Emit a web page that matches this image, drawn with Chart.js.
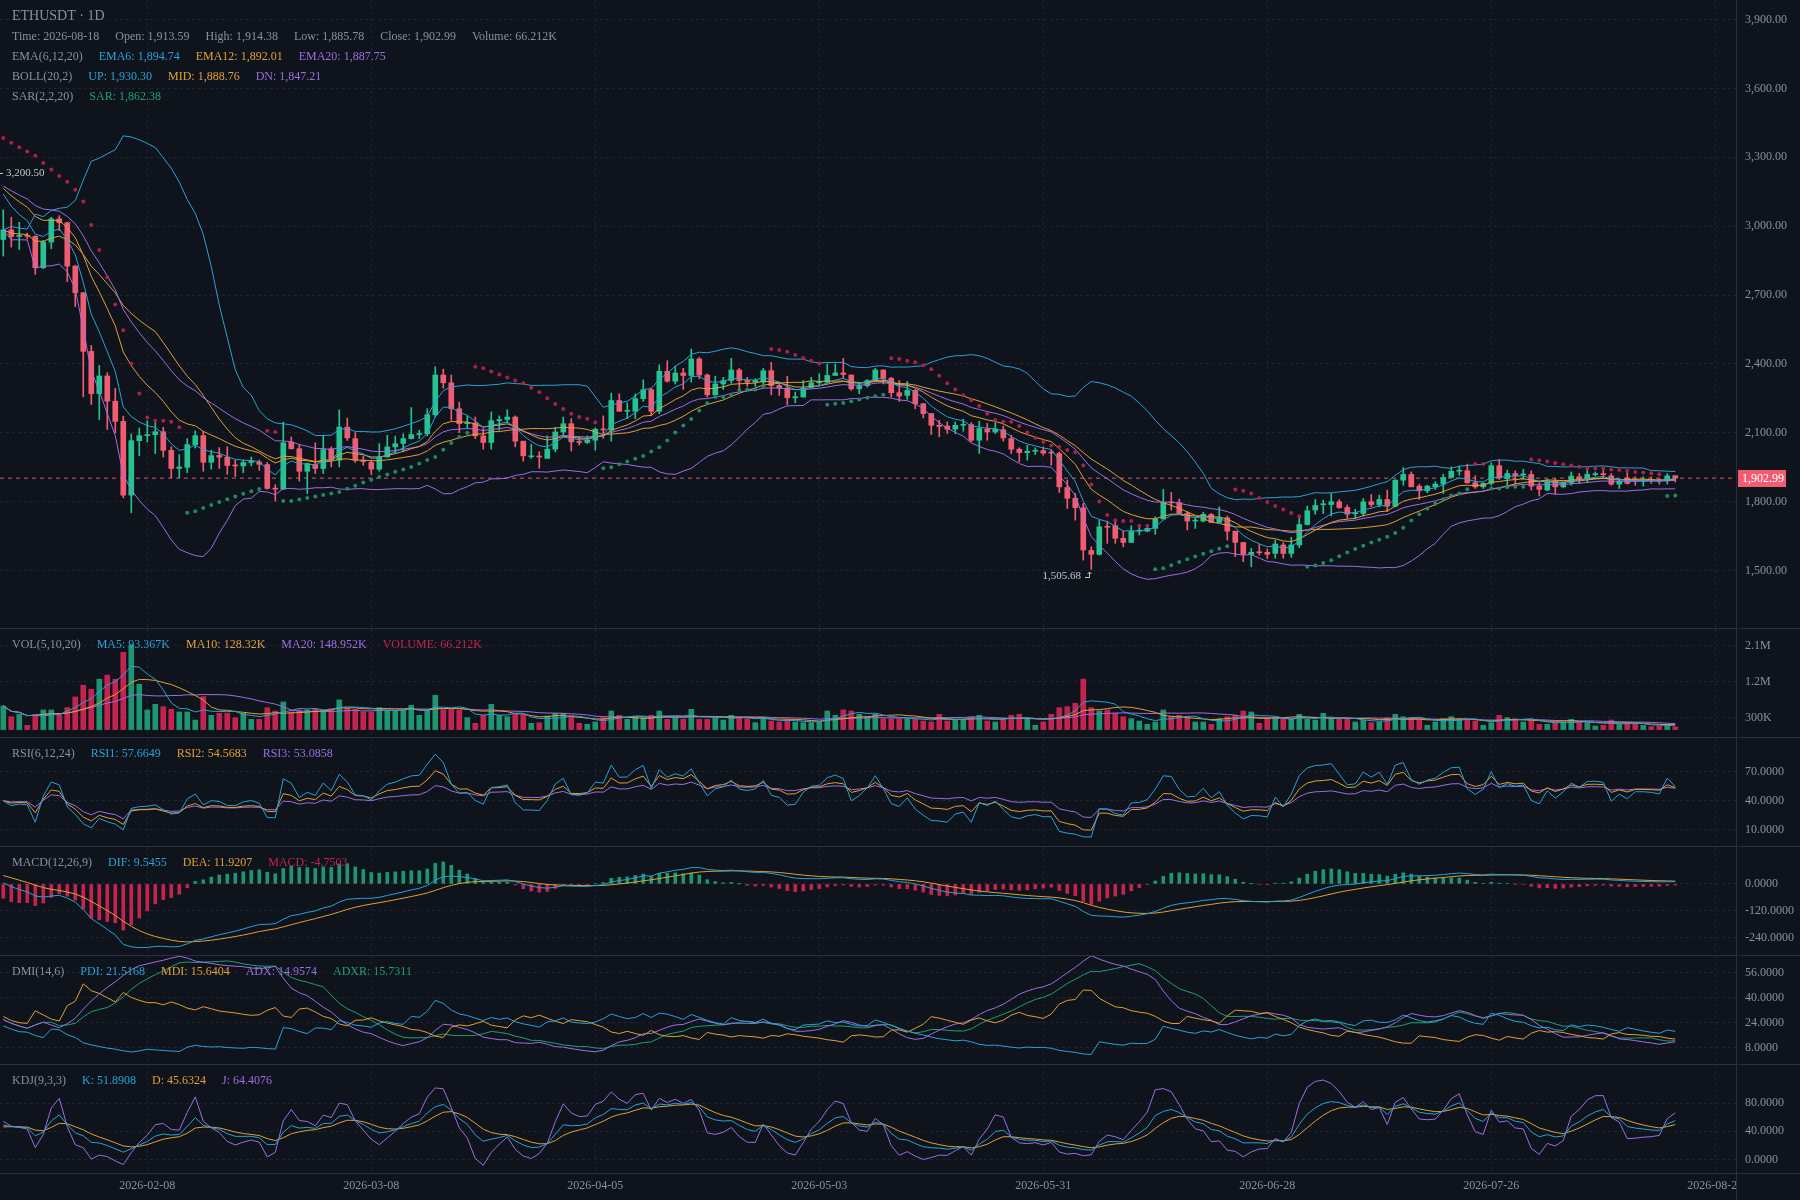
<!DOCTYPE html>
<html lang="en">
<head>
<meta charset="utf-8">
<title>ETHUSDT · 1D</title>
<script src="https://cdn.jsdelivr.net/npm/chart.js@4.4.1/dist/chart.umd.min.js"></script>
<style>
  html, body { margin: 0; padding: 0; background: #0e131c; }
  #chart-stack { width: 1800px; height: 1200px; overflow: hidden; }
  #chart-stack canvas { display: block; }
</style>
</head>
<body>
<div id="chart-stack">
  <canvas id="pane-main" width="1800" height="629"></canvas>
  <canvas id="pane-vol" width="1800" height="109"></canvas>
  <canvas id="pane-rsi" width="1800" height="109"></canvas>
  <canvas id="pane-macd" width="1800" height="109"></canvas>
  <canvas id="pane-dmi" width="1800" height="109"></canvas>
  <canvas id="pane-kdj" width="1800" height="135"></canvas>
</div>
<script>
// Daily candles, 2026-01-21 .. 2026-08-18 (index 0 = 2026-01-21)
const opens = [
  2942, 2984, 2955, 2960, 2956, 2819, 2931, 3032, 3015, 2826,
  2710, 2455, 2271, 2348, 2238, 2150, 1829, 2066, 2088, 2092,
  2105, 2024, 1945, 1950, 2049, 2088, 1972, 2002, 1994, 1958,
  1956, 1971, 1973, 1962, 1858, 1855, 2060, 2031, 1933, 1962,
  1945, 2031, 1981, 2125, 2075, 1978, 1971, 1942, 1995, 2039,
  2054, 2075, 2093, 2096, 2179, 2352, 2318, 2205, 2140, 2143,
  2087, 2058, 2153, 2158, 2169, 2064, 1996, 1998, 1989, 2029,
  2104, 2140, 2061, 2058, 2068, 2116, 2112, 2241, 2194, 2194,
  2249, 2288, 2194, 2368, 2325, 2361, 2350, 2422, 2352, 2266,
  2313, 2328, 2374, 2328, 2321, 2321, 2371, 2306, 2295, 2253,
  2256, 2299, 2318, 2321, 2350, 2361, 2352, 2292, 2306, 2328,
  2374, 2338, 2275, 2263, 2285, 2227, 2184, 2133, 2130, 2116,
  2133, 2136, 2068, 2116, 2104, 2114, 2075, 2029, 2014, 2020,
  2023, 2014, 2010, 1862, 1815, 1774, 1588, 1571, 1691, 1696,
  1641, 1623, 1672, 1672, 1684, 1725, 1797, 1797, 1749, 1716,
  1716, 1745, 1710, 1730, 1672, 1623, 1571, 1580, 1580, 1575,
  1612, 1575, 1612, 1701, 1764, 1787, 1788, 1800, 1775, 1748,
  1749, 1800, 1788, 1810, 1781, 1894, 1919, 1868, 1848, 1865,
  1877, 1906, 1933, 1935, 1883, 1865, 1880, 1957, 1901, 1923,
  1917, 1919, 1868, 1851, 1891, 1865, 1883, 1909, 1904, 1918,
  1920, 1913, 1877, 1904, 1895, 1891, 1894, 1892, 1891, 1913.59
];
const highs = [
  3071, 3039, 3017, 2970, 2958, 2938, 3039, 3046, 3018, 2830,
  2712, 2481, 2394, 2362, 2294, 2173, 2096, 2121, 2153, 2148,
  2125, 2039, 2005, 2075, 2109, 2107, 2024, 2036, 2040, 1981,
  1982, 1995, 1982, 1971, 1875, 2147, 2082, 2049, 1969, 2057,
  2089, 2039, 2200, 2164, 2101, 1999, 1981, 2053, 2089, 2086,
  2096, 2210, 2112, 2205, 2388, 2378, 2352, 2234, 2174, 2169,
  2119, 2191, 2174, 2201, 2174, 2064, 2050, 2018, 2087, 2124,
  2169, 2162, 2083, 2087, 2122, 2174, 2273, 2270, 2231, 2270,
  2331, 2295, 2396, 2414, 2390, 2381, 2465, 2429, 2357, 2347,
  2342, 2425, 2381, 2342, 2335, 2381, 2407, 2321, 2347, 2277,
  2328, 2342, 2357, 2400, 2400, 2425, 2352, 2321, 2332, 2381,
  2374, 2342, 2328, 2324, 2289, 2227, 2184, 2155, 2148, 2148,
  2159, 2145, 2151, 2141, 2148, 2130, 2090, 2035, 2046, 2035,
  2039, 2025, 2017, 1894, 1836, 1793, 1604, 1720, 1716, 1716,
  1672, 1696, 1691, 1696, 1735, 1854, 1841, 1812, 1757, 1730,
  1754, 1749, 1778, 1738, 1672, 1623, 1597, 1614, 1594, 1633,
  1622, 1645, 1728, 1781, 1810, 1807, 1836, 1810, 1786, 1767,
  1814, 1832, 1829, 1851, 1897, 1949, 1930, 1877, 1872, 1887,
  1920, 1952, 1955, 1964, 1913, 1883, 1970, 1984, 1938, 1935,
  1941, 1935, 1883, 1897, 1901, 1887, 1930, 1923, 1945, 1930,
  1938, 1923, 1901, 1928, 1909, 1909, 1909, 1901, 1923, 1914.38
];
const lows = [
  2870, 2909, 2899, 2945, 2790, 2815, 2902, 2981, 2759, 2650,
  2257, 2224, 2158, 2115, 2100, 1817, 1752, 2000, 2060, 2010,
  1995, 1904, 1904, 1927, 2034, 1933, 1942, 1945, 1920, 1910,
  1927, 1956, 1937, 1855, 1803, 1853, 2029, 1890, 1836, 1923,
  1923, 1952, 1952, 2067, 1971, 1959, 1919, 1933, 1995, 2010,
  2018, 2073, 2075, 2087, 2169, 2295, 2155, 2101, 2119, 2075,
  2029, 2029, 2112, 2145, 2039, 1977, 1989, 1946, 1989, 2018,
  2090, 2021, 2047, 2054, 2025, 2076, 2064, 2194, 2162, 2162,
  2237, 2174, 2184, 2321, 2313, 2289, 2321, 2335, 2256, 2263,
  2289, 2316, 2289, 2303, 2303, 2309, 2266, 2263, 2223, 2231,
  2256, 2295, 2309, 2318, 2350, 2338, 2285, 2270, 2299, 2324,
  2313, 2256, 2237, 2246, 2205, 2165, 2093, 2083, 2097, 2097,
  2107, 2061, 2010, 2068, 2097, 2064, 2010, 1974, 1981, 2006,
  2003, 1959, 1841, 1771, 1720, 1546, 1505.68, 1568, 1619, 1619,
  1604, 1623, 1655, 1669, 1658, 1725, 1764, 1749, 1677, 1684,
  1713, 1710, 1710, 1633, 1561, 1539, 1517, 1568, 1553, 1554,
  1554, 1558, 1601, 1699, 1746, 1749, 1738, 1771, 1728, 1728,
  1738, 1778, 1778, 1757, 1778, 1872, 1865, 1810, 1839, 1854,
  1836, 1906, 1916, 1880, 1858, 1858, 1872, 1897, 1865, 1877,
  1897, 1851, 1825, 1848, 1833, 1862, 1872, 1880, 1883, 1912,
  1904, 1872, 1858, 1877, 1872, 1868, 1880, 1877, 1877, 1885.78
];
const closes = [
  2984, 2955, 2960, 2956, 2819, 2931, 3032, 3015, 2826, 2710,
  2455, 2271, 2348, 2238, 2150, 1829, 2066, 2088, 2092, 2105,
  2024, 1945, 1952, 2049, 2088, 1972, 2001, 1994, 1958, 1956,
  1971, 1976, 1963, 1858, 1855, 2057, 2031, 1933, 1966, 1945,
  2027, 1981, 2125, 2078, 1981, 1975, 1942, 1995, 2039, 2053,
  2075, 2093, 2097, 2179, 2352, 2318, 2205, 2140, 2143, 2087,
  2058, 2153, 2158, 2169, 2064, 2000, 1998, 1995, 2029, 2104,
  2140, 2061, 2058, 2068, 2116, 2113, 2241, 2194, 2196, 2249,
  2288, 2194, 2368, 2325, 2361, 2350, 2422, 2352, 2266, 2313,
  2328, 2374, 2328, 2321, 2328, 2371, 2306, 2295, 2253, 2256,
  2295, 2318, 2321, 2350, 2361, 2354, 2292, 2306, 2328, 2374,
  2338, 2275, 2260, 2285, 2227, 2184, 2133, 2128, 2116, 2133,
  2137, 2068, 2119, 2104, 2116, 2078, 2029, 2014, 2020, 2022,
  2012, 2012, 1865, 1815, 1774, 1590, 1571, 1691, 1689, 1641,
  1623, 1672, 1674, 1684, 1725, 1797, 1795, 1749, 1716, 1718,
  1745, 1710, 1730, 1672, 1623, 1571, 1580, 1578, 1571, 1616,
  1575, 1612, 1701, 1761, 1784, 1789, 1800, 1775, 1746, 1750,
  1800, 1788, 1810, 1781, 1894, 1919, 1865, 1848, 1868, 1877,
  1906, 1933, 1936, 1883, 1865, 1880, 1957, 1904, 1923, 1914,
  1919, 1868, 1854, 1891, 1865, 1883, 1912, 1901, 1919, 1920,
  1918, 1877, 1891, 1880, 1893, 1893, 1892, 1890, 1913, 1902.99
];
// volume in thousands
const volumes = [
  594, 325, 384, 107, 384, 494, 494, 409, 552, 821,
  1116, 1014, 1267, 1368, 1267, 1940, 2125, 1141, 494, 636,
  577, 510, 443, 443, 241, 830, 359, 409, 409, 300,
  409, 258, 258, 552, 468, 695, 443, 494, 494, 527,
  494, 527, 746, 552, 510, 443, 443, 552, 494, 468,
  494, 611, 359, 494, 863, 494, 510, 494, 300, 157,
  359, 636, 359, 325, 384, 359, 157, 174, 342, 409,
  409, 359, 157, 132, 191, 300, 468, 359, 258, 325,
  300, 359, 468, 258, 325, 258, 510, 258, 258, 300,
  241, 359, 325, 275, 174, 300, 216, 191, 258, 191,
  174, 174, 191, 468, 359, 494, 468, 384, 325, 384,
  275, 275, 275, 275, 258, 216, 191, 384, 216, 258,
  258, 325, 359, 216, 191, 275, 359, 384, 275, 107,
  191, 384, 552, 577, 662, 1267, 552, 468, 494, 409,
  325, 275, 216, 132, 191, 494, 325, 359, 300, 191,
  191, 132, 275, 325, 359, 468, 443, 157, 300, 300,
  258, 258, 384, 258, 241, 409, 275, 258, 258, 191,
  241, 174, 191, 300, 384, 325, 300, 241, 107, 191,
  275, 325, 258, 258, 216, 107, 174, 359, 300, 275,
  191, 241, 132, 132, 174, 191, 258, 191, 174, 90,
  107, 241, 132, 157, 132, 107, 73, 90, 132, 66.212
];
const offscreenHigh = 3200.50;

// x axis
const tickDays = [18, 46, 74, 102, 130, 158, 186, 214];
const tickLabels = ['2026-02-08', '2026-03-08', '2026-04-05', '2026-05-03',
  '2026-05-31', '2026-06-28', '2026-07-26', '2026-08-23'];

// y axis ticks per pane
const priceTicks = [1500, 1800, 2100, 2400, 2700, 3000, 3300, 3600, 3900];
const volumeTicks = [300, 1200, 2100];
const rsiTicks = [10, 40, 70];
const macdTicks = [-240, -120, 0];
const dmiTicks = [8, 24, 40, 56];
const kdjTicks = [0, 40, 80];

// indicator values on the first visible bar
const emaSeeds = [3140, 3165, 3175];      // EMA6, EMA12, EMA20
const macdSeeds = [3160, 37];             // EMA26, DEA
const sarSeed = [3384, 2870, 0.04];       // SAR, extreme point, AF (falling)
const rsiSeed = [16, 24];                 // avg gain, avg loss
const kdjSeed = [45, 45];                 // K, D
const dmiSeed = [100, 22, 28, 26];        // avg TR, avg +DM, avg -DM, ADX

// legend texts (values as shown for the last bar)
const legendMain = [
  ['ETHUSDT · 1D'],
  ['Time: 2026-08-18', 'Open: 1,913.59', 'High: 1,914.38', 'Low: 1,885.78', 'Close: 1,902.99', 'Volume: 66.212K'],
  ['EMA(6,12,20)', 'EMA6: 1,894.74', 'EMA12: 1,892.01', 'EMA20: 1,887.75'],
  ['BOLL(20,2)', 'UP: 1,930.30', 'MID: 1,888.76', 'DN: 1,847.21'],
  ['SAR(2,2,20)', 'SAR: 1,862.38']
];
const legendVol = ['VOL(5,10,20)', 'MA5: 93.367K', 'MA10: 128.32K', 'MA20: 148.952K', 'VOLUME: 66.212K'];
const legendRsi = ['RSI(6,12,24)', 'RSI1: 57.6649', 'RSI2: 54.5683', 'RSI3: 53.0858'];
const legendMacd = ['MACD(12,26,9)', 'DIF: 9.5455', 'DEA: 11.9207', 'MACD: -4.7503'];
const legendDmi = ['DMI(14,6)', 'PDI: 21.5168', 'MDI: 15.6404', 'ADX: 14.9574', 'ADXR: 15.7311'];
const legendKdj = ['KDJ(9,3,3)', 'K: 51.8908', 'D: 45.6324', 'J: 64.4076'];

(function () {
    'use strict';

    const FONT = '"Liberation Serif", "DejaVu Serif", serif';
    const BG = '#0e131c';
    const C = {
        text: '#8b909b',
        grid: '#1d2430',
        sep: '#2a303b',
        up: '#26c28f',
        down: '#f05d72',
        volUp: '#1e9471',
        volDown: '#c2244f',
        cyan: '#2aa3d6',
        orange: '#e3a035',
        purple: '#9d6fe3',
        green: '#20a070',
        sarUp: '#1d8a63',
        sarDown: '#b01f4a',
        mark: '#c4c8cf'
    };
    const X_MIN = -0.41;
    const X_MAX = 216.59;
    const AXIS_W = 64;

    Chart.defaults.font.family = FONT;
    Chart.defaults.color = C.text;

    const n = closes.length;
    const idx = closes.map((_, i) => i);
    const pts = (arr) => arr.map((y, x) => ({ x, y }));

    // ---------- indicators ----------

    /**
     * EMA starting from a seed value on the first bar
     */
    function ema(values, period, seed) {
        const k = 2 / (period + 1);
        const out = [];
        let prev = seed;
        values.forEach((v, i) => {
            prev = i === 0 ? seed : prev + k * (v - prev);
            out.push(prev);
        });
        return out;
    }

    /**
     * Simple moving average (shorter window at the start)
     */
    function sma(values, period) {
        return values.map((v, i) => {
            const win = values.slice(Math.max(0, i - period + 1), i + 1);
            return win.reduce((a, b) => a + b, 0) / win.length;
        });
    }

    function bollinger(period, mult) {
        const mid = sma(closes, period);
        const up = [];
        const dn = [];
        closes.forEach((c, i) => {
            const win = closes.slice(Math.max(0, i - period + 1), i + 1);
            const m = mid[i];
            const sd = Math.sqrt(win.reduce((a, v) => a + (v - m) * (v - m), 0) / win.length);
            up.push(m + mult * sd);
            dn.push(m - mult * sd);
        });
        return { up, mid, dn };
    }

    function parabolicSar(step, maxAf) {
        const out = [sarSeed[0]];
        const rising = [false];
        let sar = sarSeed[0], ep = sarSeed[1], af = sarSeed[2], up = false;
        for (let i = 1; i < n; i++) {
            let next = sar + af * (ep - sar);
            const j = Math.max(0, i - 2);
            if (up) {
                next = Math.min(next, lows[i - 1], lows[j]);
                if (lows[i] < next) {
                    up = false; next = ep; ep = lows[i]; af = step;
                } else if (highs[i] > ep) {
                    ep = highs[i]; af = Math.min(af + step, maxAf);
                }
            } else {
                next = Math.max(next, highs[i - 1], highs[j]);
                if (highs[i] > next) {
                    up = true; next = ep; ep = highs[i]; af = step;
                } else if (lows[i] < ep) {
                    ep = lows[i]; af = Math.min(af + step, maxAf);
                }
            }
            sar = next;
            out.push(sar);
            rising.push(up);
        }
        return { out, rising };
    }

    function rsi(period) {
        let g = rsiSeed[0], l = rsiSeed[1];
        return closes.map((c, i) => {
            if (i > 0) {
                const d = c - closes[i - 1];
                g = (Math.max(d, 0) + (period - 1) * g) / period;
                l = (Math.max(-d, 0) + (period - 1) * l) / period;
            }
            return 100 * g / (g + l);
        });
    }

    function kdj(period) {
        let k = kdjSeed[0], d = kdjSeed[1];
        const K = [], D = [], J = [];
        closes.forEach((c, i) => {
            const from = Math.max(0, i - period + 1);
            const hh = Math.max(...highs.slice(from, i + 1));
            const ll = Math.min(...lows.slice(from, i + 1));
            const rsv = hh === ll ? 50 : (c - ll) / (hh - ll) * 100;
            k = (2 * k + rsv) / 3;
            d = (2 * d + k) / 3;
            K.push(k); D.push(d); J.push(3 * k - 2 * d);
        });
        return { K, D, J };
    }

    /**
     * DMI with Wilder smoothing
     */
    function dmi(period, m) {
        let trS = dmiSeed[0], pS = dmiSeed[1], mS = dmiSeed[2], adx = dmiSeed[3];
        const pdi = [], mdi = [], adxArr = [], adxr = [];
        closes.forEach((c, i) => {
            if (i > 0) {
                const pc = closes[i - 1];
                const tr = Math.max(highs[i] - lows[i], Math.abs(highs[i] - pc), Math.abs(lows[i] - pc));
                const hd = highs[i] - highs[i - 1];
                const ld = lows[i - 1] - lows[i];
                trS += (tr - trS) / period;
                pS += ((hd > 0 && hd > ld ? hd : 0) - pS) / period;
                mS += ((ld > 0 && ld > hd ? ld : 0) - mS) / period;
            }
            const p = pS * 100 / trS;
            const q = mS * 100 / trS;
            const dx = p + q === 0 ? 0 : Math.abs(q - p) / (p + q) * 100;
            if (i > 0) {
                adx += (dx - adx) / m;
            }
            pdi.push(p);
            mdi.push(q);
            adxArr.push(adx);
            adxr.push(i >= m ? (adx + adxArr[i - m]) / 2 : adx);
        });
        return { pdi, mdi, adx: adxArr, adxr };
    }

    const ema6 = ema(closes, 6, emaSeeds[0]);
    const ema12 = ema(closes, 12, emaSeeds[1]);
    const ema20 = ema(closes, 20, emaSeeds[2]);
    const boll = bollinger(20, 2);
    const sar = parabolicSar(0.02, 0.2);

    const volMa5 = sma(volumes, 5);
    const volMa10 = sma(volumes, 10);
    const volMa20 = sma(volumes, 20);

    const rsi1 = rsi(6), rsi2 = rsi(12), rsi3 = rsi(24);

    const ema26 = ema(closes, 26, macdSeeds[0]);
    const dif = ema12.map((v, i) => v - ema26[i]);
    const dea = ema(dif, 9, macdSeeds[1]);
    const macdHist = dif.map((v, i) => 2 * (v - dea[i]));

    const dm = dmi(14, 6);
    const kd = kdj(9);

    // ---------- helpers ----------

    const fmtPrice = (v) => v.toLocaleString('en-US', { minimumFractionDigits: 2, maximumFractionDigits: 2 });
    const fmtVol = (v) => v >= 1000 ? (v / 1000) + 'M' : v + 'K';
    const fmtOsc = (v) => v.toFixed(4);
    const isUp = (i) => closes[i] >= opens[i];

    function line(data, color, order) {
        return {
            type: 'line', data: pts(data), borderColor: color, borderWidth: 1,
            pointRadius: 0, tension: 0, order: order || 1
        };
    }

    /**
     * Pane decoration: separators, legend rows and extras
     */
    function decor(rows, extra) {
        return {
            id: 'paneDecor',
            afterDraw(chart) {
                const ctx = chart.ctx;
                const area = chart.chartArea;
                ctx.save();

                // date labels stop at the price axis
                if (chart.height > area.bottom) {
                    ctx.fillStyle = BG;
                    ctx.fillRect(area.right, area.bottom, chart.width - area.right, chart.height - area.bottom);
                }

                ctx.strokeStyle = C.sep;
                ctx.lineWidth = 1;
                ctx.beginPath();
                ctx.moveTo(0, area.bottom - 0.5);
                ctx.lineTo(chart.width, area.bottom - 0.5);
                ctx.moveTo(area.right + 0.5, 0);
                ctx.lineTo(area.right + 0.5, chart.height);
                ctx.stroke();

                ctx.textBaseline = 'middle';
                ctx.textAlign = 'left';
                rows.forEach((row) => {
                    let x = 12;
                    ctx.font = row.size + 'px ' + FONT;
                    row.items.forEach((text, k) => {
                        ctx.fillStyle = row.colors[k] || C.text;
                        ctx.fillText(text, x, row.y);
                        x += ctx.measureText(text).width + 16;
                    });
                });
                if (extra) {
                    extra(chart, ctx);
                }
                ctx.restore();
            }
        };
    }

    function drawPriceMarks(chart, ctx) {
        const ys = chart.scales.y;
        const xs = chart.scales.x;
        const area = chart.chartArea;
        const last = n - 1;

        // last price tag
        const py = ys.getPixelForValue(closes[last]);
        ctx.fillStyle = C.down;
        ctx.fillRect(area.right + 2, Math.round(py) - 8, 48, 17);
        ctx.fillStyle = '#ffffff';
        ctx.font = '12px ' + FONT;
        ctx.fillText(fmtPrice(closes[last]), area.right + 6, Math.round(py) + 1);

        // high of the window lies left of the view
        ctx.fillStyle = C.mark;
        ctx.strokeStyle = C.mark;
        ctx.font = '11px ' + FONT;
        const hy = Math.round(ys.getPixelForValue(offscreenHigh)) - 7;
        ctx.beginPath();
        ctx.moveTo(area.left, hy + 0.5);
        ctx.lineTo(area.left + 3, hy + 0.5);
        ctx.stroke();
        ctx.fillText(fmtPrice(offscreenHigh), area.left + 6, hy);

        // lowest low in view
        const li = lows.indexOf(Math.min(...lows));
        const lx = Math.round(xs.getPixelForValue(li));
        const ly = Math.round(ys.getPixelForValue(lows[li]));
        ctx.textAlign = 'right';
        ctx.fillText(fmtPrice(lows[li]), lx - 10, ly + 7);
        ctx.beginPath();
        ctx.moveTo(lx - 6, ly + 8.5);
        ctx.lineTo(lx - 1.5, ly + 8.5);
        ctx.lineTo(lx - 1.5, ly + 3);
        ctx.moveTo(lx - 3.5, ly + 5);
        ctx.lineTo(lx - 1.5, ly + 3);
        ctx.lineTo(lx + 0.5, ly + 5);
        ctx.stroke();
    }

    /**
     * Build one pane sharing the same x range
     */
    function makePane(canvasId, cfg) {
        const showDates = !!cfg.showDates;
        return new Chart(document.getElementById(canvasId), {
            type: 'bar',
            data: { datasets: cfg.datasets },
            options: {
                responsive: false,
                animation: false,
                devicePixelRatio: 1,
                events: [],
                layout: { padding: 0, autoPadding: false },
                plugins: { legend: { display: false }, tooltip: { enabled: false } },
                scales: {
                    x: {
                        type: 'linear',
                        offset: false,
                        min: X_MIN,
                        max: X_MAX,
                        afterBuildTicks: (s) => { s.ticks = tickDays.map((v) => ({ value: v })); },
                        afterFit: (s) => {
                            s.height = showDates ? 26 : 0;
                            s.paddingLeft = 0;
                            s.paddingRight = 0;
                        },
                        grid: { color: C.grid, drawTicks: false, offset: false },
                        border: { display: false, dash: [3, 3] },
                        ticks: {
                            display: showDates,
                            color: C.text,
                            font: { size: 12 },
                            padding: 5,
                            maxRotation: 0,
                            autoSkip: false,
                            callback: (v, i) => tickLabels[i]
                        }
                    },
                    y: {
                        type: 'linear',
                        position: 'right',
                        min: cfg.min,
                        max: cfg.max,
                        afterBuildTicks: (s) => { s.ticks = cfg.ticks.map((v) => ({ value: v })); },
                        afterFit: (s) => {
                            s.width = AXIS_W;
                            s.paddingTop = 0;
                            s.paddingBottom = 0;
                        },
                        grid: { color: C.grid, drawTicks: false },
                        border: { display: false, dash: [3, 3] },
                        ticks: { color: C.text, font: { size: 12 }, padding: 9, callback: cfg.format }
                    }
                }
            },
            plugins: [decor(cfg.legend, cfg.extra)]
        });
    }

    function paneLegend(items, colors) {
        return [{ y: 16, size: 12, items, colors: [C.text].concat(colors) }];
    }

    // ---------- main pane ----------
    makePane('pane-main', {
        min: 1246, max: 3985, ticks: priceTicks, format: fmtPrice,
        legend: [
            { y: 16, size: 14, items: legendMain[0], colors: [] },
            { y: 37, size: 12, items: legendMain[1], colors: [] },
            { y: 57, size: 12, items: legendMain[2], colors: [C.text, C.cyan, C.orange, C.purple] },
            { y: 77, size: 12, items: legendMain[3], colors: [C.text, C.cyan, C.orange, C.purple] },
            { y: 97, size: 12, items: legendMain[4], colors: [C.text, C.green] }
        ],
        extra: drawPriceMarks,
        datasets: [
            {
                type: 'line',
                data: [{ x: X_MIN, y: closes[n - 1] }, { x: X_MAX, y: closes[n - 1] }],
                borderColor: '#d9596b', borderWidth: 1, borderDash: [4, 4], pointRadius: 0, order: 12
            },
            {
                data: idx.map((i) => ({ x: i, y: [lows[i], highs[i]] })),
                backgroundColor: (c) => isUp(c.dataIndex) ? C.up : C.down,
                barThickness: 1, grouped: false, order: 11
            },
            {
                data: idx.map((i) => ({ x: i, y: [opens[i], closes[i]] })),
                backgroundColor: (c) => isUp(c.dataIndex) ? C.up : C.down,
                barThickness: 5, minBarLength: 1, grouped: false, order: 10
            },
            line(boll.up, C.cyan, 3),
            line(boll.mid, C.orange, 3),
            line(boll.dn, C.purple, 3),
            line(ema6, C.cyan, 2),
            line(ema12, C.orange, 2),
            line(ema20, C.purple, 2),
            {
                type: 'line', data: pts(sar.out), showLine: false, order: 1,
                pointRadius: 2, pointBorderWidth: 0,
                pointBackgroundColor: (c) => sar.rising[c.dataIndex] ? C.sarUp : C.sarDown
            }
        ]
    });

    // ---------- volume ----------
    makePane('pane-vol', {
        min: -211, max: 2527, ticks: volumeTicks, format: fmtVol,
        legend: paneLegend(legendVol, [C.cyan, C.orange, C.purple, C.volDown]),
        datasets: [
            {
                data: pts(volumes),
                backgroundColor: (c) => isUp(c.dataIndex) ? C.volUp : C.volDown,
                barThickness: 5, grouped: false, order: 10
            },
            line(volMa5, C.cyan),
            line(volMa10, C.orange),
            line(volMa20, C.purple)
        ]
    });

    // ---------- RSI ----------
    makePane('pane-rsi', {
        min: -7.5, max: 104.4, ticks: rsiTicks, format: fmtOsc,
        legend: paneLegend(legendRsi, [C.cyan, C.orange, C.purple]),
        datasets: [line(rsi1, C.cyan), line(rsi2, C.orange), line(rsi3, C.purple)]
    });

    // ---------- MACD ----------
    makePane('pane-macd', {
        min: -320, max: 164, ticks: macdTicks, format: fmtOsc,
        legend: paneLegend(legendMacd, [C.cyan, C.orange, C.volDown]),
        datasets: [
            {
                data: pts(macdHist),
                backgroundColor: (c) => macdHist[c.dataIndex] >= 0 ? C.volUp : C.volDown,
                barThickness: 3, grouped: false, order: 10
            },
            line(dif, C.cyan),
            line(dea, C.orange)
        ]
    });

    // ---------- DMI ----------
    makePane('pane-dmi', {
        min: -2.8, max: 66.4, ticks: dmiTicks, format: fmtOsc,
        legend: paneLegend(legendDmi, [C.cyan, C.orange, C.purple, C.green]),
        datasets: [line(dm.pdi, C.cyan), line(dm.mdi, C.orange), line(dm.adx, C.purple), line(dm.adxr, C.green)]
    });

    // ---------- KDJ ----------
    makePane('pane-kdj', {
        min: -20.6, max: 134, ticks: kdjTicks, format: fmtOsc, showDates: true,
        legend: paneLegend(legendKdj, [C.cyan, C.orange, C.purple]),
        datasets: [line(kd.K, C.cyan), line(kd.D, C.orange), line(kd.J, C.purple)]
    });
})();
</script>
</body>
</html>
